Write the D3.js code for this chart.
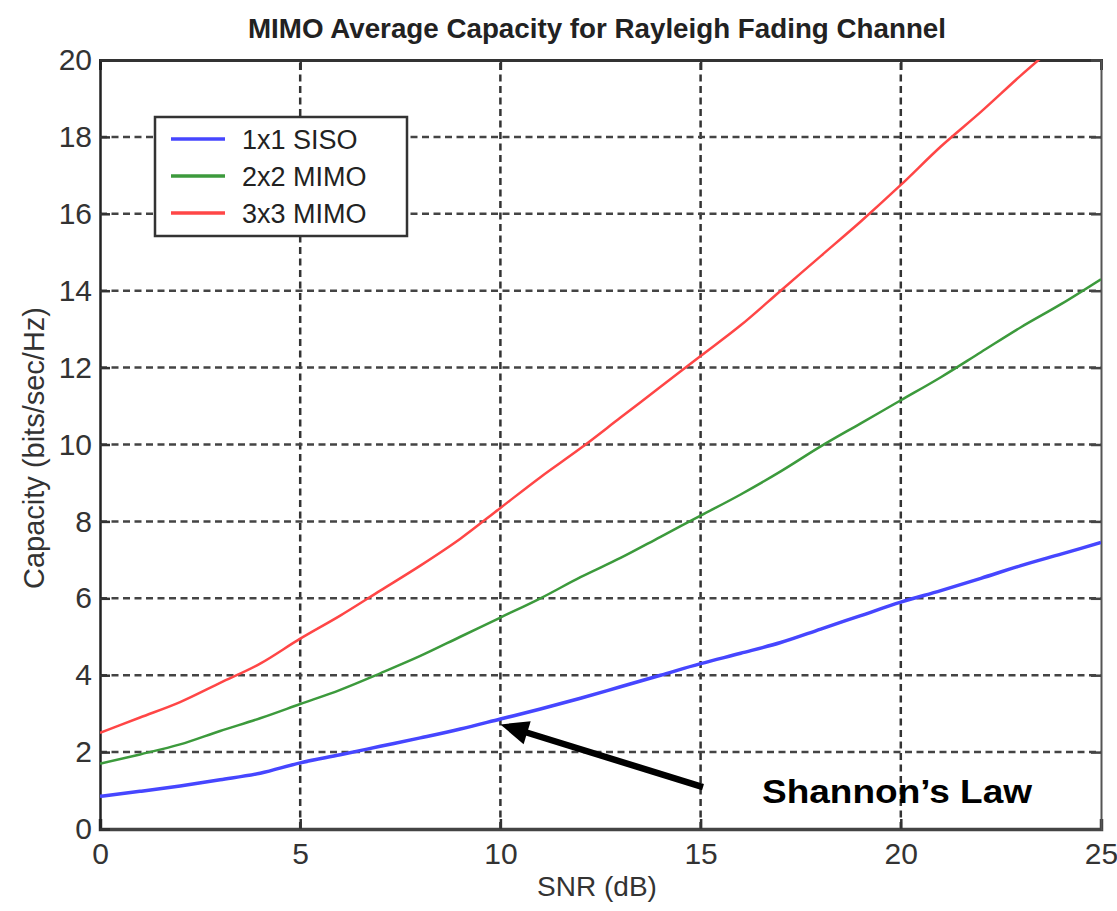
<!DOCTYPE html>
<html>
<head>
<meta charset="utf-8">
<script src="https://cdn.jsdelivr.net/npm/d3@7"></script>
<style>
    body { margin: 0; background: #fff; }
    text { font-family: "Liberation Sans", Arial, Helvetica, sans-serif; }
</style>
</head>
<body>
<svg id="chart"></svg>
<script>
// SNR in dB, one reading per integer step
var snr = d3.range(0, 26);
var siso1x1 = [0.85, 0.98, 1.12, 1.28, 1.45, 1.72, 1.93, 2.15, 2.37, 2.6, 2.86, 3.12, 3.4, 3.7, 4.0, 4.3, 4.57, 4.85, 5.2, 5.55, 5.9, 6.2, 6.52, 6.85, 7.15, 7.45];
var mimo2x2 = [1.7, 1.94, 2.2, 2.55, 2.88, 3.25, 3.62, 4.05, 4.5, 5.0, 5.5, 6.0, 6.55, 7.05, 7.6, 8.15, 8.7, 9.3, 9.95, 10.55, 11.15, 11.75, 12.4, 13.05, 13.65, 14.3];
var mimo3x3 = [2.5, 2.9, 3.3, 3.8, 4.3, 4.95, 5.55, 6.2, 6.85, 7.55, 8.35, 9.15, 9.9, 10.7, 11.5, 12.3, 13.1, 14.0, 14.9, 15.8, 16.75, 17.75, 18.65, 19.6, 20.5, 21.4];
var seriesNames = ["1x1 SISO", "2x2 MIMO", "3x3 MIMO"];
var xTicks = [0, 5, 10, 15, 20, 25];
var yTicks = [0, 2, 4, 6, 8, 10, 12, 14, 16, 18, 20];
// arrow from label to the SISO curve, in data units
var arrowTail = [15.06, 1.09],
    arrowTip = [10.0, 2.72];

var width = 1117,
    height = 911;
var colors = ["#4646ff", "#3c9a3c", "#ff4646"];
var widths = [3.5, 2.5, 2.5];

var svg = d3.select("#chart")
    .attr("width", width)
    .attr("height", height);

svg.append("rect").attr("width", width).attr("height", height).attr("fill", "#fff");

var x = d3.scaleLinear().domain([0, 25]).range([100, 1101]);
var y = d3.scaleLinear().domain([0, 20]).range([829, 60]);

svg.append("clipPath").attr("id", "plot")
    .append("rect")
    .attr("x", x(0)).attr("y", y(20))
    .attr("width", x(25) - x(0)).attr("height", y(0) - y(20));

// grid
svg.append("g").selectAll("line")
    .data(xTicks.slice(1, -1))
    .enter().append("line")
    .attr("x1", function(d) { return x(d); })
    .attr("x2", function(d) { return x(d); })
    .attr("y1", y(0)).attr("y2", y(20))
    .attr("stroke", "#333").attr("stroke-width", 2.5)
    .attr("stroke-dasharray", "7,4.5");

svg.append("g").selectAll("line")
    .data(yTicks.slice(1, -1))
    .enter().append("line")
    .attr("y1", function(d) { return y(d); })
    .attr("y2", function(d) { return y(d); })
    .attr("x1", x(0)).attr("x2", x(25))
    .attr("stroke", "#444").attr("stroke-width", 2.5)
    .attr("stroke-dasharray", "7,4.5");

// axes, ticks pointing inward on all sides
var tickLen = 10;
svg.append("g").attr("transform", "translate(0," + y(0) + ")")
    .call(d3.axisBottom(x).tickValues(xTicks).tickSize(-tickLen).tickPadding(14))
    .call(function(g) {
        g.select(".domain").attr("stroke", "#444").attr("stroke-width", 3.5);
        g.selectAll(".tick line").attr("stroke", "#333").attr("stroke-width", 2.5);
        g.selectAll("text").attr("font-size", 30).attr("fill", "#333");
    });
svg.append("g").attr("transform", "translate(0," + y(20) + ")")
    .call(d3.axisTop(x).tickValues(xTicks).tickSize(-tickLen).tickFormat(""))
    .call(function(g) {
        g.select(".domain").attr("stroke", "#333").attr("stroke-width", 3);
        g.selectAll(".tick line").attr("stroke", "#333").attr("stroke-width", 2.5);
    });
svg.append("g").attr("transform", "translate(" + x(0) + ",0)")
    .call(d3.axisLeft(y).tickValues(yTicks).tickSize(-tickLen).tickPadding(8))
    .call(function(g) {
        g.select(".domain").attr("stroke", "#222").attr("stroke-width", 2.5);
        g.selectAll(".tick line").attr("stroke", "#333").attr("stroke-width", 2.5);
        g.selectAll("text").attr("font-size", 30).attr("fill", "#333");
    });
svg.append("g").attr("transform", "translate(" + x(25) + ",0)")
    .call(d3.axisRight(y).tickValues(yTicks).tickSize(-tickLen).tickFormat(""))
    .call(function(g) {
        g.select(".domain").attr("stroke", "#555").attr("stroke-width", 2);
        g.selectAll(".tick line").attr("stroke", "#444").attr("stroke-width", 2.5);
    });

// curves
var line = d3.line()
    .x(function(d, i) { return x(snr[i]); })
    .y(function(d) { return y(d); })
    .curve(d3.curveMonotoneX);

svg.append("g").attr("clip-path", "url(#plot)")
    .selectAll("path")
    .data([siso1x1, mimo2x2, mimo3x3])
    .enter().append("path")
    .attr("d", line)
    .attr("fill", "none")
    .attr("stroke", function(d, i) { return colors[i]; })
    .attr("stroke-width", function(d, i) { return widths[i]; });

// legend
var legend = svg.append("g");
legend.append("rect")
    .attr("x", 155).attr("y", 117)
    .attr("width", 252).attr("height", 119)
    .attr("fill", "#fff").attr("stroke", "#333").attr("stroke-width", 2.5);
var item = legend.selectAll("g.item")
    .data(seriesNames)
    .enter().append("g").attr("class", "item")
    .attr("transform", function(d, i) { return "translate(0," + (139 + i * 37) + ")"; });
item.append("line")
    .attr("x1", 171).attr("x2", 225)
    .attr("stroke", function(d, i) { return colors[i]; })
    .attr("stroke-width", 3.5);
item.append("text")
    .attr("x", 242).attr("y", 10)
    .attr("font-size", 27).attr("fill", "#222")
    .text(function(d) { return d; });

// title and axis labels
svg.append("text")
    .attr("x", 597).attr("y", 38)
    .attr("text-anchor", "middle")
    .attr("font-size", 27).attr("font-weight", "bold").attr("fill", "#222")
    .attr("textLength", 698).attr("lengthAdjust", "spacingAndGlyphs")
    .text("MIMO Average Capacity for Rayleigh Fading Channel");

svg.append("text")
    .attr("x", 597).attr("y", 896)
    .attr("text-anchor", "middle")
    .attr("font-size", 28).attr("fill", "#333")
    .text("SNR (dB)");

svg.append("text")
    .attr("transform", "translate(44,448) rotate(-90)")
    .attr("text-anchor", "middle")
    .attr("font-size", 29).attr("fill", "#333")
    .text("Capacity (bits/sec/Hz)");

// annotation
var tail = [x(arrowTail[0]), y(arrowTail[1])],
    tip = [x(arrowTip[0]), y(arrowTip[1])];
var dx = tip[0] - tail[0], dy = tip[1] - tail[1];
var len = Math.sqrt(dx * dx + dy * dy);
var ux = dx / len, uy = dy / len;
var headLen = 28, headHalf = 12;
var base = [tip[0] - ux * headLen, tip[1] - uy * headLen];

svg.append("line")
    .attr("x1", tail[0]).attr("y1", tail[1])
    .attr("x2", base[0] + ux * 4).attr("y2", base[1] + uy * 4)
    .attr("stroke", "#000").attr("stroke-width", 6.5);
svg.append("polygon")
    .attr("points", [
        tip,
        [base[0] - uy * headHalf, base[1] + ux * headHalf],
        [base[0] + uy * headHalf, base[1] - ux * headHalf]
    ].map(function(p) { return p.join(","); }).join(" "))
    .attr("fill", "#000");

svg.append("text")
    .attr("x", 897).attr("y", 803)
    .attr("text-anchor", "middle")
    .attr("font-size", 33).attr("font-weight", "bold").attr("fill", "#000")
    .attr("textLength", 270).attr("lengthAdjust", "spacingAndGlyphs")
    .text("Shannon\u2019s Law");
</script>
</body>
</html>
